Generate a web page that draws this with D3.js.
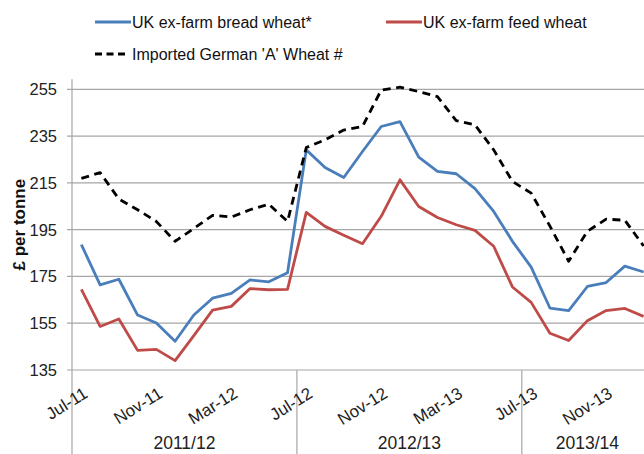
<!DOCTYPE html>
<html>
<head>
<meta charset="utf-8">
<script src="https://cdn.jsdelivr.net/npm/d3@7"></script>
<style>
  html, body { margin: 0; padding: 0; background: #fff; }
  svg { display: block; font-family: "Liberation Sans", Arial, sans-serif; }
</style>
</head>
<body>
<svg id="chart" width="644" height="454"></svg>
<script>
// Monthly categories, Jul-11 to Jan-14
const months = ["Jul-11","Aug-11","Sep-11","Oct-11","Nov-11","Dec-11","Jan-12","Feb-12","Mar-12","Apr-12","May-12","Jun-12",
                "Jul-12","Aug-12","Sep-12","Oct-12","Nov-12","Dec-12","Jan-13","Feb-13","Mar-13","Apr-13","May-13","Jun-13",
                "Jul-13","Aug-13","Sep-13","Oct-13","Nov-13","Dec-13","Jan-14"];

// Months that carry a tick label
const tickMonths = ["Jul-11","Nov-11","Mar-12","Jul-12","Nov-12","Mar-13","Jul-13","Nov-13"];

// Marketing years (second axis level): label, first month, last month
const seasons = ["2011/12","2012/13","2013/14"];
const seasonStart = ["Jul-11","Jul-12","Jul-13"];
const seasonEnd = ["Jun-12","Jun-13","Jan-14"];

// £ per tonne
const breadWheat = [188.6,171.4,173.8,158.5,155.1,147.3,158.5,165.7,167.8,173.5,172.7,176.6,
                    229.1,221.6,217.3,228.4,239.1,241.2,226.0,219.9,218.9,212.5,202.8,190.0,
                    179.0,161.5,160.4,170.7,172.4,179.4,176.9];
const feedWheat = [169.5,153.6,156.8,143.4,143.8,139.0,149.7,160.6,162.2,169.8,169.3,169.5,
                   202.4,196.4,192.6,189.0,200.7,216.3,204.9,200.2,197.1,194.7,187.9,170.5,
                   163.9,150.7,147.6,156.1,160.4,161.3,157.9];
const germanWheat = [216.9,219.4,208.1,203.5,198.5,190.0,195.5,201.1,200.4,203.5,205.9,198.5,
                     230.1,233.4,237.6,239.1,254.7,255.9,254.0,251.9,241.6,239.8,229.1,215.6,
                     210.6,196.5,181.5,194.3,199.5,199.0,188.0];

const yTicks = [135,155,175,195,215,235,255];

const seriesNames = ["UK ex-farm bread wheat*","UK ex-farm feed wheat","Imported German 'A' Wheat #"];

const svg = d3.select("#chart");
const plotLeft = 72, plotRight = 653, plotTop = 89.3, plotBottom = 370;
const gridColor = "#a6a6a6";

const x = d3.scaleBand().domain(months).range([plotLeft, plotRight]).paddingInner(0).paddingOuter(0);
const cx = m => x(m) + x.bandwidth() / 2;
const y = d3.scaleLinear().domain([135, 255]).range([plotBottom, plotTop]);

// Horizontal gridlines
svg.append("g").selectAll("line").data(yTicks).join("line")
  .attr("x1", plotLeft - 5).attr("x2", 644)
  .attr("y1", d => y(d)).attr("y2", d => y(d))
  .attr("stroke", gridColor).attr("stroke-width", 1.2);

// Value axis line
svg.append("line")
  .attr("x1", plotLeft).attr("x2", plotLeft).attr("y1", plotTop - 10).attr("y2", plotBottom)
  .attr("stroke", gridColor).attr("stroke-width", 1.2);

// Value axis labels
svg.append("g").selectAll("text").data(yTicks).join("text")
  .attr("x", 57).attr("y", d => y(d)).attr("dy", "0.36em")
  .attr("text-anchor", "end").attr("font-size", 16.5).attr("fill", "#222")
  .text(d => d);

// Axis title
svg.append("text")
  .attr("transform", `translate(25,${(plotTop + plotBottom) / 2 - 5}) rotate(-90)`)
  .attr("text-anchor", "middle").attr("font-size", 17).attr("font-weight", "bold")
  .attr("fill", "#111")
  .text("£ per tonne");

// Season separators on the category axis
const seps = seasonStart.map(m => x(m));
svg.append("g").selectAll("line").data(seps).join("line")
  .attr("x1", d => d).attr("x2", d => d).attr("y1", plotBottom).attr("y2", 454)
  .attr("stroke", gridColor).attr("stroke-width", 1.2);

// Month labels
svg.append("g").selectAll("text").data(tickMonths).join("text")
  .attr("transform", m => `translate(${cx(m) + 1},386) rotate(-32)`)
  .attr("dy", "0.72em")
  .attr("text-anchor", "end").attr("font-size", 17).attr("fill", "#222")
  .text(m => m);

// Season labels
svg.append("g").selectAll("text").data(seasons).join("text")
  .attr("x", (d, i) => (x(seasonStart[i]) + x(seasonEnd[i]) + x.bandwidth()) / 2)
  .attr("y", 449)
  .attr("text-anchor", "middle").attr("font-size", 17.5).attr("fill", "#222")
  .text(d => d);

// Price lines
const line = d3.line().x((d, i) => cx(months[i])).y(d => y(d));
const series = [
  { values: breadWheat, color: "#4a7ebb", dash: null },
  { values: feedWheat, color: "#be4b48", dash: null },
  { values: germanWheat, color: "#000000", dash: "8,5.5" }
];
svg.append("g").selectAll("path").data(series).join("path")
  .attr("d", s => line(s.values))
  .attr("fill", "none")
  .attr("stroke", s => s.color)
  .attr("stroke-width", 2.8)
  .attr("stroke-linejoin", "round")
  .attr("stroke-dasharray", s => s.dash);

// Legend
const legendItems = [
  { name: seriesNames[0], color: "#4a7ebb", dash: null, lx: 95, ly: 22 },
  { name: seriesNames[1], color: "#be4b48", dash: null, lx: 386, ly: 22 },
  { name: seriesNames[2], color: "#000000", dash: "7,4.5", lx: 95, ly: 54 }
];
const lg = svg.append("g").selectAll("g").data(legendItems).join("g")
  .attr("transform", d => `translate(${d.lx},${d.ly})`);
lg.append("line")
  .attr("x1", 0).attr("x2", d => d.dash ? 31 : 36).attr("y1", 0).attr("y2", 0)
  .attr("stroke", d => d.color).attr("stroke-width", 3)
  .attr("stroke-dasharray", d => d.dash);
lg.append("text")
  .attr("x", 37).attr("y", 0).attr("dy", "0.36em")
  .attr("font-size", 16).attr("fill", "#111")
  .text(d => d.name);
</script>
</body>
</html>
